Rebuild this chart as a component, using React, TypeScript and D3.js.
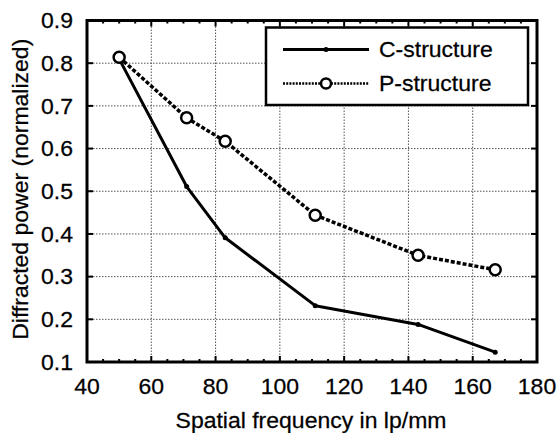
import React from "react";
import * as d3 from "d3";

const freqC = [50, 71, 83, 111, 143, 167];
const powerC = [0.81, 0.511, 0.391, 0.232, 0.188, 0.123];
const freqP = [50, 71, 83, 111, 143, 167];
const powerP = [0.814, 0.672, 0.617, 0.444, 0.35, 0.316];
const xTicks = [40, 60, 80, 100, 120, 140, 160, 180];
const yTicks = [0.1, 0.2, 0.3, 0.4, 0.5, 0.6, 0.7, 0.8, 0.9];
const seriesNames = ["C-structure", "P-structure"];

const W = 558;
const H = 433;
const L = 87, R = 537, T = 20.5, B = 362;
const FONT = "Liberation Sans, Arial, sans-serif";
const FS = 21.5;
const SX = 1.07; // slightly wide glyphs

function Label(props: { x: number; y: number; anchor?: string; dy?: string; rotate?: number; children: React.ReactNode }) {
  const { x, y, anchor = "start", dy, rotate = 0, children } = props;
  return (
    <text
      transform={`translate(${x},${y}) rotate(${rotate}) scale(${SX},1)`}
      textAnchor={anchor}
      dy={dy}
      fontFamily={FONT}
      fontSize={FS}
      fill="#000"
      stroke="#000"
      strokeWidth={0.25}
    >
      {children}
    </text>
  );
}

export default function App() {
  const x = d3.scaleLinear().domain([40, 180]).range([L, R]);
  const y = d3.scaleLinear().domain([0.1, 0.9]).range([B, T]);
  const line = d3.line<[number, number]>().x(d => x(d[0])).y(d => y(d[1]));
  const cPts: [number, number][] = freqC.map((f, i) => [f, powerC[i]]);
  const pPts: [number, number][] = freqP.map((f, i) => [f, powerP[i]]);
  const minor = d3.range(45, 180, 5).filter(v => v % 20 !== 0);

  return (
    <svg width={W} height={H} style={{ position: "absolute", left: 0, top: 0, background: "#fff" }}>
      <rect x={0} y={0} width={W} height={H} fill="#fff" />
      {/* grid */}
      <g stroke="#555" strokeWidth={1} strokeDasharray="1.5,1.5">
        {xTicks.slice(1, -1).map(t => (
          <line key={"gx" + t} x1={x(t)} x2={x(t)} y1={T} y2={B} />
        ))}
        {yTicks.slice(1, -1).map(t => (
          <line key={"gy" + t} x1={L} x2={R} y1={y(t)} y2={y(t)} />
        ))}
      </g>
      {/* ticks */}
      <g stroke="#000" strokeWidth={2}>
        {xTicks.map(t => (
          <g key={"tx" + t}>
            <line x1={x(t)} x2={x(t)} y1={B} y2={B - 6} />
            <line x1={x(t)} x2={x(t)} y1={T} y2={T + 6} />
          </g>
        ))}
        {minor.map(t => (
          <g key={"mx" + t}>
            <line x1={x(t)} x2={x(t)} y1={B} y2={B - 3} />
            <line x1={x(t)} x2={x(t)} y1={T} y2={T + 3} />
          </g>
        ))}
        {yTicks.map(t => (
          <g key={"ty" + t}>
            <line x1={L} x2={L + 6} y1={y(t)} y2={y(t)} />
            <line x1={R} x2={R - 6} y1={y(t)} y2={y(t)} />
          </g>
        ))}
      </g>
      {/* series */}
      <path d={line(cPts) ?? ""} fill="none" stroke="#000" strokeWidth={3} strokeLinejoin="round" />
      {cPts.map((p, i) => (
        <circle key={"c" + i} cx={x(p[0])} cy={y(p[1])} r={2.5} fill="#000" />
      ))}
      <path d={line(pPts) ?? ""} fill="none" stroke="#000" strokeWidth={3.5} strokeDasharray="4,2" />
      {pPts.map((p, i) => (
        <circle key={"p" + i} cx={x(p[0])} cy={y(p[1])} r={5.5} fill="#fff" stroke="#000" strokeWidth={2.5} />
      ))}
      {/* frame */}
      <rect x={L} y={T} width={R - L} height={B - T} fill="none" stroke="#000" strokeWidth={3} />
      {/* legend */}
      <g>
        <rect x={266} y={27.5} width={262} height={77.5} fill="#fff" stroke="#000" strokeWidth={2.5} />
        <line x1={283} x2={369} y1={49.5} y2={49.5} stroke="#000" strokeWidth={3} />
        <circle cx={326} cy={49.5} r={2.5} fill="#000" />
        <line x1={283} x2={369} y1={83.5} y2={83.5} stroke="#000" strokeWidth={2.5} strokeDasharray="2,1.2" />
        <circle cx={326} cy={83.5} r={5} fill="#fff" stroke="#000" strokeWidth={2.5} />
        {seriesNames.map((n, i) => (
          <Label key={n} x={379} y={49.5 + i * 34} dy="0.35em">{n}</Label>
        ))}
      </g>
      {/* tick labels */}
      {xTicks.map(t => (
        <Label key={"lx" + t} x={x(t)} y={394} anchor="middle">{t}</Label>
      ))}
      {yTicks.map(t => (
        <Label key={"ly" + t} x={73} y={y(t)} dy="0.36em" anchor="end">{t.toFixed(1)}</Label>
      ))}
      <Label x={(L + R) / 2 - 1} y={428} anchor="middle">Spatial frequency in lp/mm</Label>
      <text
        transform={`translate(28, ${(T + B) / 2 - 2}) rotate(-90) scale(${SX},1)`}
        textAnchor="middle"
        fontFamily={FONT}
        fontSize={FS}
        fill="#000"
        stroke="#000"
        strokeWidth={0.25}
      >
        Diffracted power (normalized)
      </text>
    </svg>
  );
}
